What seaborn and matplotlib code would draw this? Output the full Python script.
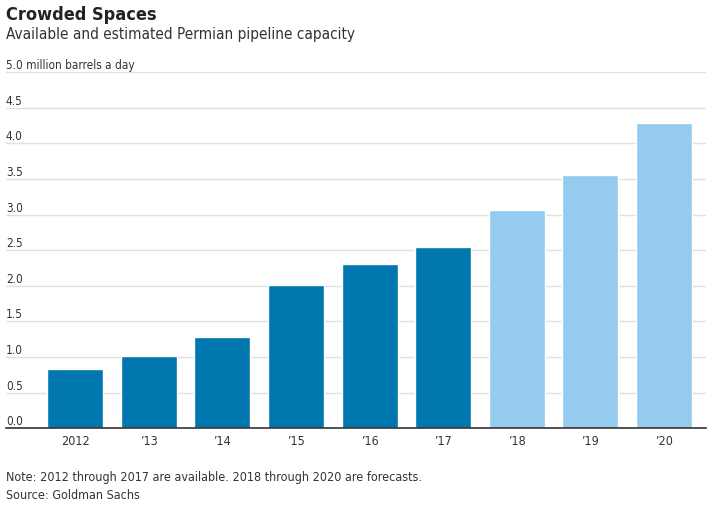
import matplotlib.pyplot as plt
import seaborn as sns
import pandas as pd

# Chart data
years = ["2012", "\u201913", "\u201914", "\u201915", "\u201916", "\u201917", "\u201918", "\u201919", "\u201920"]
capacity = [0.83, 1.02, 1.28, 2.01, 2.30, 2.55, 3.07, 3.55, 4.28]
status = ["Available"] * 6 + ["Forecast"] * 3
y_ticks = [0.0, 0.5, 1.0, 1.5, 2.0, 2.5, 3.0, 3.5, 4.0, 4.5, 5.0]

df = pd.DataFrame({"Year": years, "Capacity": capacity, "Status": status})

sns.set_style("white")
plt.rcParams['font.family'] = ['DejaVu Sans']
plt.rcParams['font.stretch'] = 'condensed'
text_color = "#333333"

fig = plt.figure(figsize=(7.12, 5.09), dpi=100)
ax = fig.add_axes([0.0084, 0.1585, 0.9832, 0.7])

sns.barplot(data=df, x="Year", y="Capacity", hue="Status",
            palette={"Available": "#0077ae", "Forecast": "#95cbee"},
            dodge=False, width=0.76, legend=False, saturation=1, ax=ax, zorder=3)

ax.set_xlim(-0.94, 8.57)
ax.set_ylim(0, 5.0)
ax.set_yticks(y_ticks)
ax.set_yticklabels([])
ax.tick_params(axis="y", length=0)
ax.grid(axis="y", color="#e0e0e0", linewidth=1, zorder=0)
ax.set_axisbelow(True)
for side in ["top", "right", "left"]:
    ax.spines[side].set_visible(False)
ax.spines["bottom"].set_color("#333333")
ax.spines["bottom"].set_linewidth(1.2)
ax.spines["bottom"].set_zorder(4)
ax.tick_params(axis="x", length=4, width=1, color="#333333", pad=1,
               labelsize=9, labelcolor=text_color)
ax.set_xlabel("")
ax.set_ylabel("")

# y labels sit on top of the gridlines, flush left
for v in y_ticks:
    label = f"{v:.1f}"
    if v == 5.0:
        label = "5.0 million barrels a day"
    ax.text(0, v, label, transform=ax.get_yaxis_transform(), ha="left", va="bottom",
            fontsize=8.5, color=text_color)

fig.text(0.0084, 0.96, "Crowded Spaces", fontsize=13, fontweight="bold",
         color="#222222")
fig.text(0.0084, 0.918, "Available and estimated Permian pipeline capacity",
         fontsize=11, color=text_color, va="bottom")
fig.text(0.0084, 0.055, "Note: 2012 through 2017 are available. 2018 through 2020 are forecasts.",
         fontsize=9, color=text_color)
fig.text(0.0084, 0.02, "Source: Goldman Sachs",
         fontsize=9, color=text_color)

fig.savefig("out.png", dpi=100)
